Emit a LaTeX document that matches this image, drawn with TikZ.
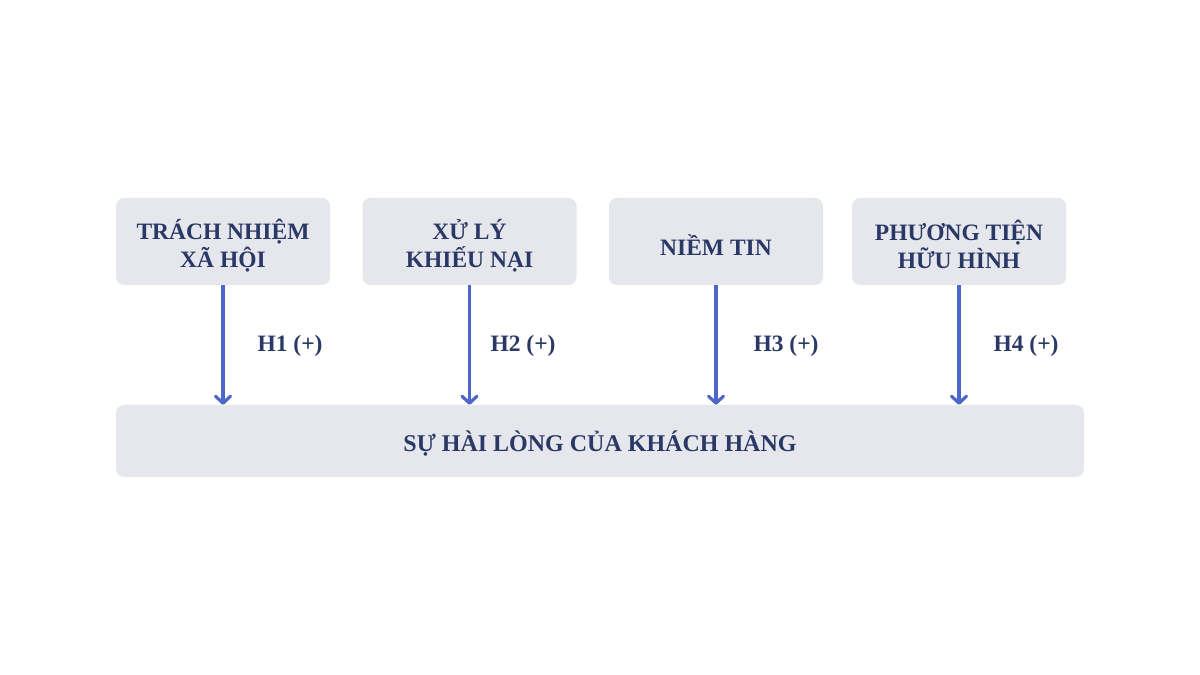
\documentclass[tikz,border=0pt]{standalone}
\usepackage{fontspec}
\setmainfont{Liberation Serif}
\usetikzlibrary{arrows.meta}
\definecolor{boxfill}{HTML}{E6E7ED}
\definecolor{txt}{HTML}{2A3866}
\definecolor{arr}{HTML}{4F66C9}
\begin{document}
\begin{tikzpicture}[x=1pt,y=1pt,
  topbox/.style={fill=boxfill, rounded corners=8pt, minimum width=214pt, minimum height=87pt, inner sep=0pt, align=center, text=txt, font=\fontsize{23.5}{28}\selectfont\bfseries},
  botbox/.style={fill=boxfill, rounded corners=8pt, minimum width=968pt, minimum height=72pt, inner sep=0pt, text=txt, font=\fontsize{24}{28}\selectfont\bfseries},
  lbl/.style={text=txt, font=\fontsize{23.5}{28}\selectfont\bfseries, inner sep=0pt},
  link/.style={draw=arr, line width=3.2pt, -{Straight Barb[length=7pt,width=15pt,round]}}
]
\fill[white] (0,0) rectangle (1200,675);
\useasboundingbox (0,0) rectangle (1200,675);
\node[topbox] (b1) at (223,433.5) {};
\node[topbox] (b2) at (469.5,433.5) {};
\node[topbox] (b3) at (716,433.5) {};
\node[topbox] (b4) at (959,433.5) {};
\node[topbox, fill=none, minimum width=0pt, minimum height=0pt] (t1) at ([yshift=-4pt]b1.center) {TRÁCH NHIỆM\\XÃ HỘI};
\node[topbox, fill=none, minimum width=0pt, minimum height=0pt] (t2) at ([yshift=-4pt]b2.center) {XỬ LÝ\\KHIẾU NẠI};
\node[topbox, fill=none, minimum width=0pt, minimum height=0pt] (t3) at ([yshift=-4pt]b3.center) {NIỀM TIN};
\node[topbox, fill=none, minimum width=0pt, minimum height=0pt] (t4) at ([yshift=-3pt]b4.center) {PHƯƠNG TIỆN\\HỮU HÌNH};
\node[botbox] (bot) at (600,234) {};
\node[botbox, fill=none, minimum width=0pt, minimum height=0pt] (tb) at ([yshift=-3pt]bot.center) {SỰ HÀI LÒNG CỦA KHÁCH HÀNG};
\draw[link] (b1.south) -- (b1.south |- bot.north);
\draw[link] (b2.south) -- (b2.south |- bot.north);
\draw[link] (b3.south) -- (b3.south |- bot.north);
\draw[link] (b4.south) -- (b4.south |- bot.north);
\node[lbl] (l1) at (290,329) {H1 (+)};
\node[lbl] (l2) at (523,329) {H2 (+)};
\node[lbl] (l3) at (786,329) {H3 (+)};
\node[lbl] (l4) at (1026,329) {H4 (+)};
\end{tikzpicture}
\end{document}
